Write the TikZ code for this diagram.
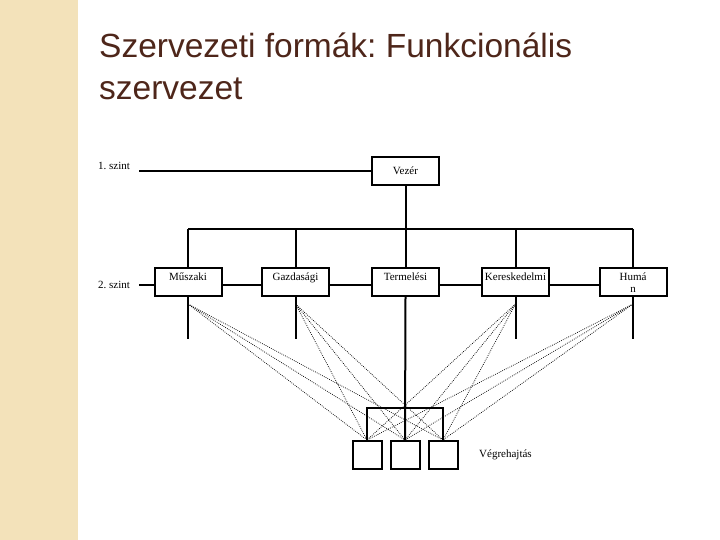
\documentclass[tikz,border=0pt]{standalone}
\usepackage{fontspec}
\setmainfont{Liberation Serif}
\newfontfamily\titlefont{Liberation Sans}
\usetikzlibrary{positioning,calc}
\definecolor{strip}{RGB}{243,226,186}
\definecolor{titlebrown}{RGB}{78,38,26}
\frenchspacing

\tikzset{
  box/.style={draw, line width=2bp, rectangle, inner sep=0pt, minimum width=67bp, minimum height=28bp},
  sqbox/.style={draw, line width=2bp, rectangle, inner sep=0pt, minimum width=29bp, minimum height=28bp},
  txt/.style={font=\fontsize{11bp}{12bp}\selectfont, inner sep=0pt, align=center},
  link/.style={line width=2bp},
  fan/.style={line width=0.7bp, dash pattern=on 0.8bp off 1.2bp}
}

\begin{document}
\begin{tikzpicture}[x=1bp,y=-1bp]
\useasboundingbox (0,0) rectangle (720,540);
\fill[strip] (0,0) rectangle (78,540);

% title
\node[anchor=base west, inner sep=0pt, text=titlebrown, font=\titlefont\fontsize{33.5bp}{40bp}\selectfont] (title1) at (99,58) {Szervezeti formák: Funkcionális};
\node[anchor=base west, inner sep=0pt, text=titlebrown, font=\titlefont\fontsize{33.5bp}{40bp}\selectfont] (title2) at (99,100) {szervezet};

% level labels
\node[txt, anchor=base west] (szint1) at (98,170) {1. szint};
\node[txt, anchor=base west] (szint2) at (98,288) {2. szint};
\coordinate (l1) at (139,171);
\coordinate (l2) at (139,285);

% boxes
\node[box, txt] (vezer) at (405.5,171) {Vezér};
\node[box] (musz)  at (188,282) {};
\node[box] (gazd)  at (295.5,282) {};
\node[box] (term)  at (405.5,282) {};
\node[box] (keres) at (515.5,282) {};
\node[box] (human) at (633,282) {};
\node[txt, anchor=north, below=5.5bp of musz.north]  (muszt)  {Műszaki};
\node[txt, anchor=north, below=5.5bp of gazd.north]  (gazdt)  {Gazdasági};
\node[txt, anchor=north, below=5.5bp of term.north]  (termt)  {Termelési};
\node[txt, anchor=north, below=5.5bp of keres.north] (kerest) {Kereskedelmi};
\node[txt, anchor=north, below=5.5bp of human.north] (humant) {Humá\\n};

\node[sqbox] (sq1) at (367,455) {};
\node[sqbox] (sq2) at (405,455) {};
\node[sqbox] (sq3) at (443,455) {};
\node[txt, anchor=base west] (vegre) at (479,457) {Végrehajtás};

% solid lines
\draw[link] (l1) -- (vezer.west);
\draw[link] (vezer.south) -- (term.north);
\coordinate (busL) at (188,229);
\coordinate (busR) at (633,229);
\draw[link] (busL) -- (busR);
\foreach \d in {musz,gazd,keres,human}
  \draw[link] (busL -| \d.north) -- (\d.north);
\draw[link] (l2) -- (l2 -| musz.west);
\draw[link] (musz.east |- l2) -- (gazd.west |- l2);
\draw[link] (gazd.east |- l2) -- (term.west |- l2);
\draw[link] (term.east |- l2) -- (keres.west |- l2);
\draw[link] (keres.east |- l2) -- (human.west |- l2);
\foreach \d in {musz,gazd,keres,human}
  \draw[link] (\d.south) -- ++(0,42);
\draw[link] (term.south) -- (sq2.north);
\coordinate (brk) at (405,408);
\draw[link] (sq1.north) |- (brk) -| (sq3.north);

% dotted fan
\foreach \d in {musz,gazd,keres,human}
  \foreach \s in {sq1,sq2,sq3}
    \draw[fan] ([yshift=-7bp]\d.south) -- (\s.north);
\end{tikzpicture}
\end{document}
